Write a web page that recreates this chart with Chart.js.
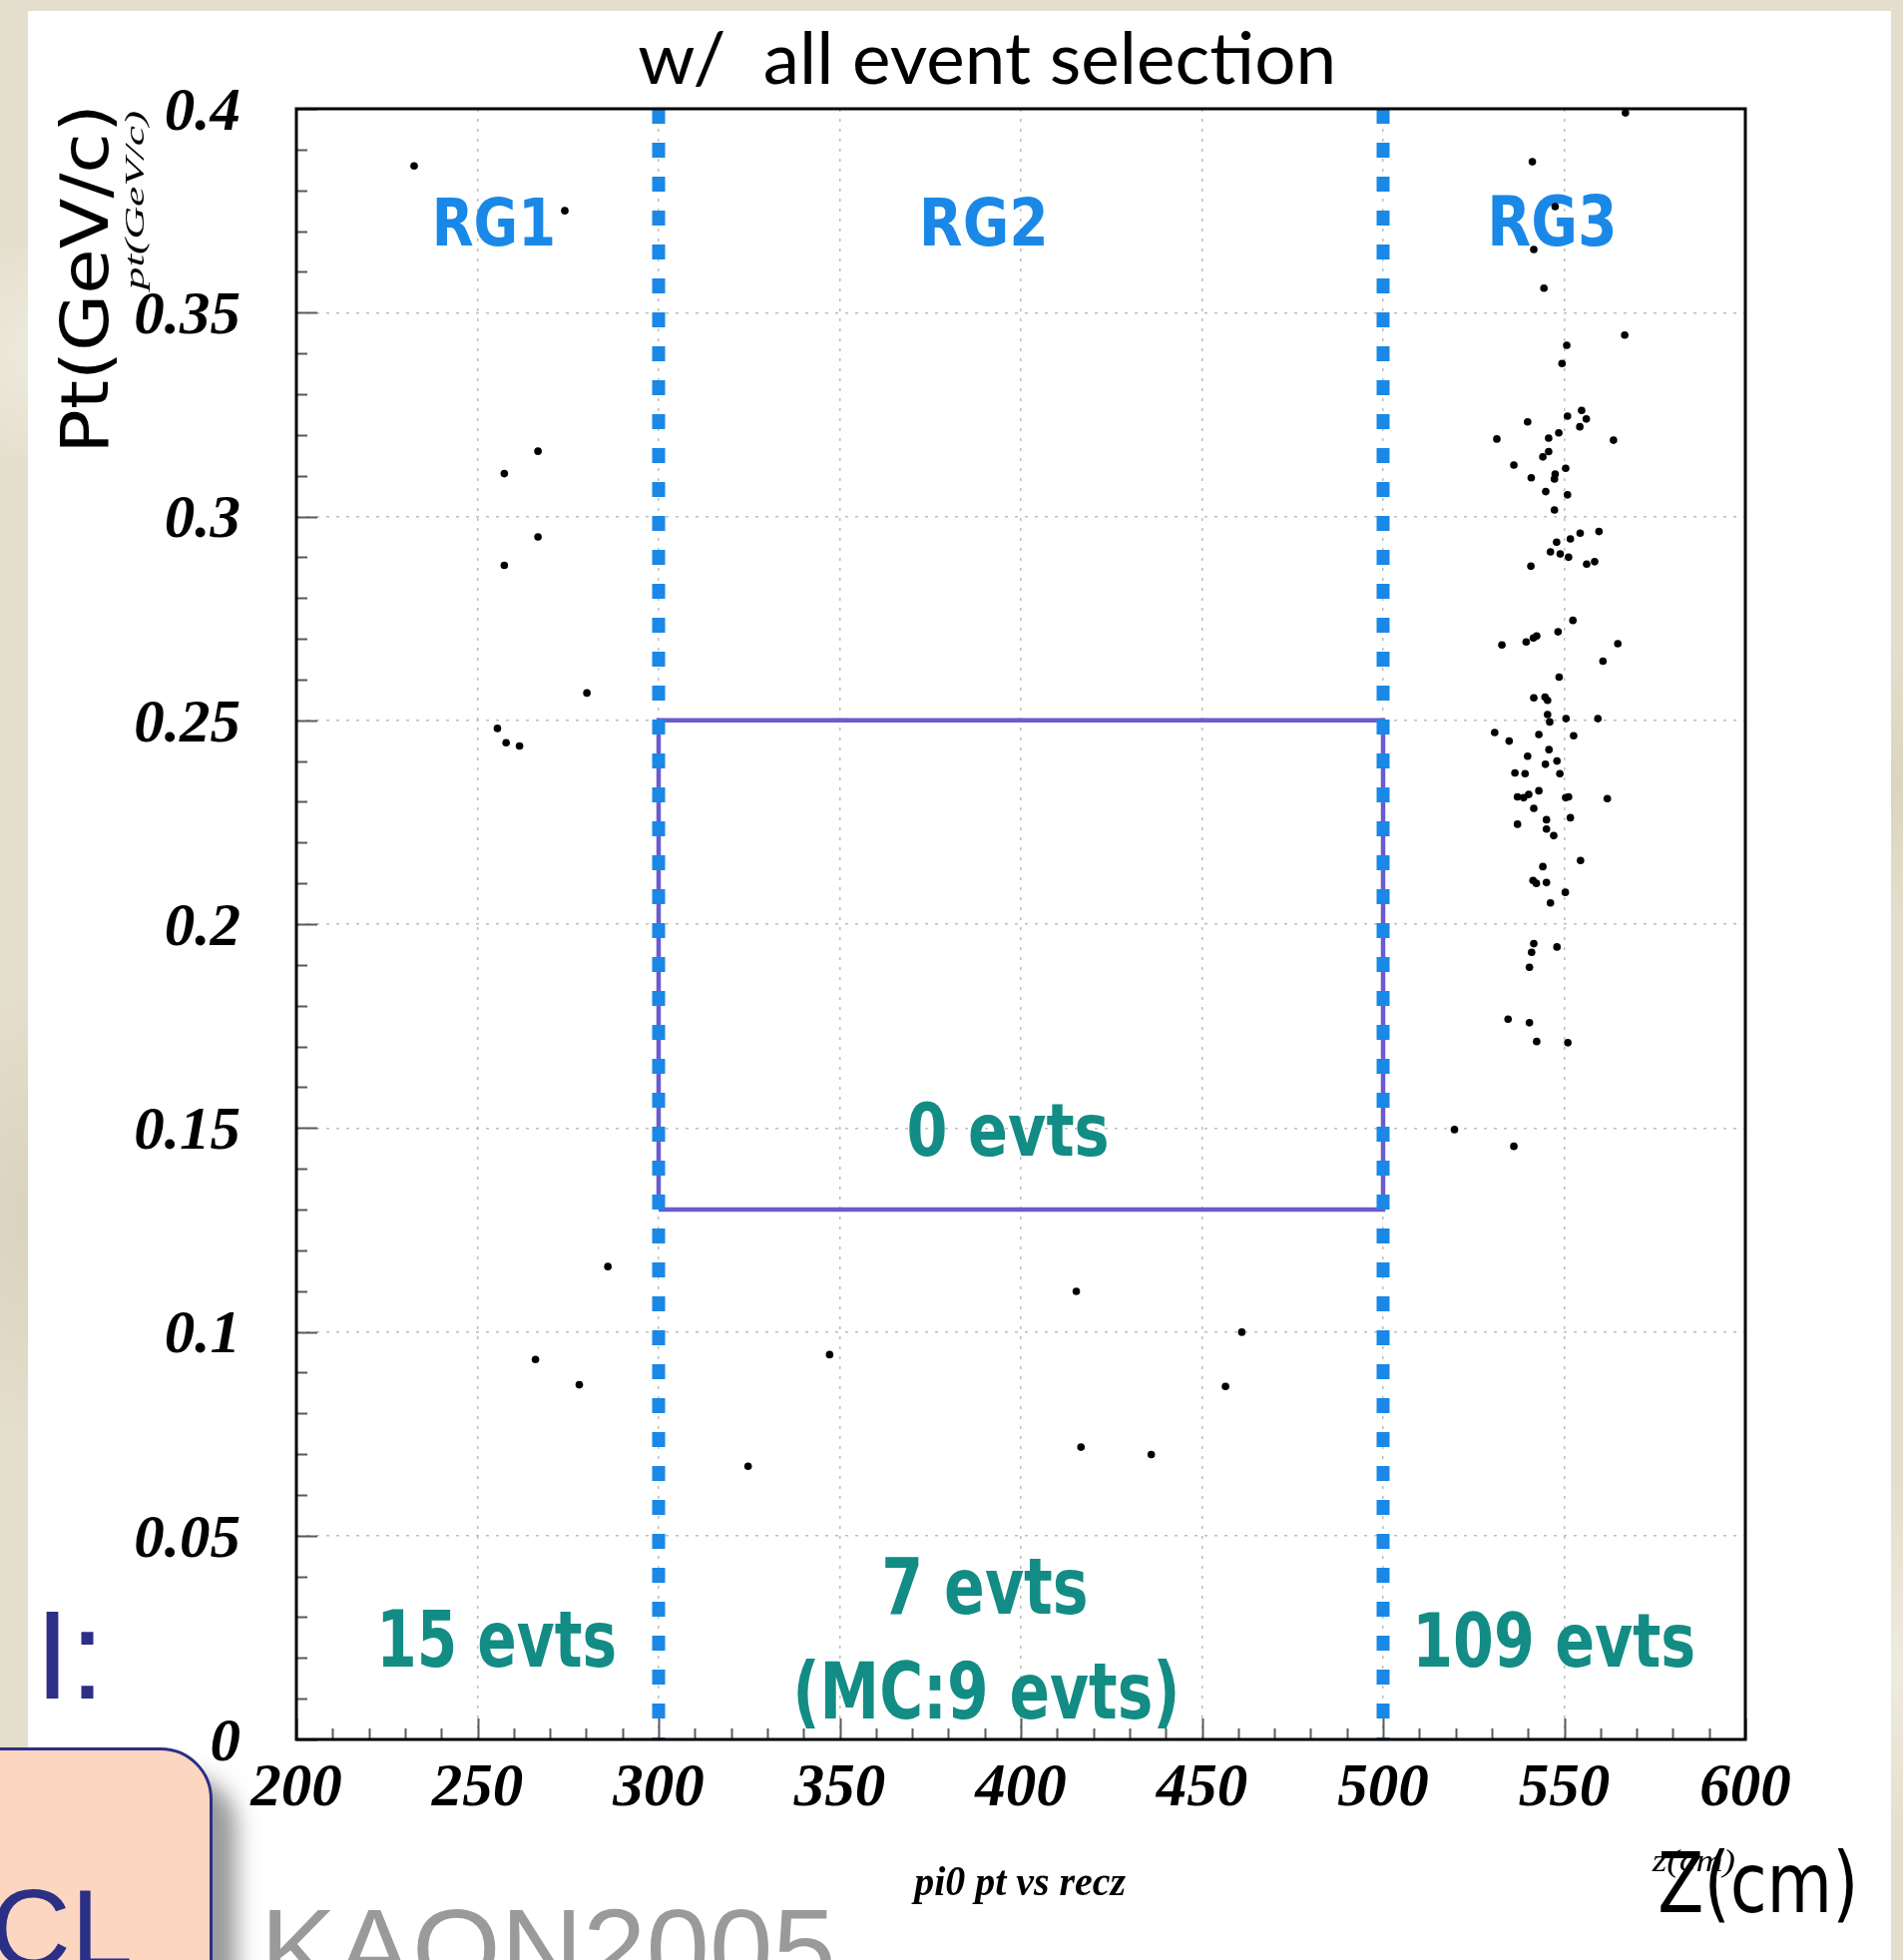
<!DOCTYPE html>
<html>
<head>
<meta charset="utf-8">
<title>pi0 pt vs recz</title>
<script src="https://cdn.jsdelivr.net/npm/chart.js@4.4.1/dist/chart.umd.min.js"></script>
<style>
  html, body { margin: 0; padding: 0; }
  body {
    width: 1907px; height: 1964px; overflow: hidden; position: relative;
    background:
      radial-gradient(ellipse 260px 180px at 4% 18%, rgba(255,255,250,0.45), transparent 70%),
      radial-gradient(ellipse 220px 320px at 2% 62%, rgba(205,195,172,0.45), transparent 70%),
      radial-gradient(ellipse 300px 200px at 99% 40%, rgba(210,200,178,0.45), transparent 70%),
      radial-gradient(ellipse 300px 260px at 99% 85%, rgba(250,248,240,0.5), transparent 70%),
      #e4decc;
  }
  #panel { position: absolute; left: 28px; top: 11px; width: 1867px; height: 1953px; background: #fff; }
  #chart { position: absolute; left: 0; top: 0; }
  .slide { position: absolute; font-family: 'Liberation Sans', Arial, sans-serif; line-height: 1; white-space: nowrap; }
  #tag {
    position: absolute; left: -20px; top: 1751px; width: 227px; height: 260px;
    background: #fcd6c0; border: 3px solid #2b2f86; border-radius: 0 52px 0 0;
    box-shadow: 24px 28px 22px rgba(70,70,70,0.55);
  }
</style>
</head>
<body>
<div id="panel"></div>
<canvas id="chart" width="1907" height="1964"></canvas>
<div id="tag"></div>
<div class="slide" style="left:35px; top:1596px; font-size:126px; color:#2b2f86;">I:</div>
<div class="slide" style="left:-10px; top:1877px; font-size:112px; color:#2b2f86;">CL</div>
<div class="slide" style="left:261px; top:1896px; font-size:114px; color:#9a9a9a;">KAON2005</div>

<script>
// pi0 candidates: transverse momentum (GeV/c) vs reconstructed decay vertex z (cm)
// Region 1 (z < 300)
const rg1Z  = [232.5, 274.1, 266.7, 257.4, 266.7, 257.4, 280.2, 255.5, 257.9, 261.6, 286.0, 266.0, 278.1];
const rg1Pt = [0.386, 0.375, 0.316, 0.3105, 0.295, 0.288, 0.2567, 0.248, 0.2445, 0.2437, 0.116, 0.0932, 0.087];

// Region 2 (300 < z < 500)
const rg2Z  = [324.7, 347.2, 415.3, 416.6, 436.0, 456.5, 461.0];
const rg2Pt = [0.067, 0.0944, 0.1099, 0.0717, 0.0699, 0.0866, 0.0999];

// Region 3 (z > 500)
const rg3Z = [
  566.9, 541.2, 547.5, 541.6, 544.4, 566.7, 550.7, 549.4,
  554.8, 550.9, 556.1, 539.9, 554.3, 548.5, 545.7, 531.4, 563.6, 545.7, 544.1, 536.1, 550.4, 547.5, 540.9, 547.3, 544.9, 550.9, 547.3,
  559.6, 554.4, 551.7, 547.9, 546.2, 548.9, 551.2, 540.8, 556.2, 558.4,
  552.4, 548.3, 542.4, 541.5, 539.5, 532.8, 564.8,
  560.7, 548.6, 541.6, 544.7, 545.4, 545.4, 546.0, 550.5, 559.3,
  530.8, 543.0, 552.6, 534.8, 545.8, 539.9, 548.0, 544.8, 536.4, 539.2,
  548.8, 543.0, 537.1, 538.8, 540.2, 550.4, 551.2, 561.9, 541.6, 551.7,
  545.1, 537.1, 545.1, 547.1, 554.5, 544.1, 541.4, 542.3, 545.1, 550.3,
  546.2, 541.6, 541.0, 548.0, 540.4, 534.5, 540.4, 542.4, 551.0, 519.7, 536.1
];
const rg3Pt = [
  0.399, 0.387, 0.376, 0.3655, 0.356, 0.3445, 0.342, 0.3375,
  0.326, 0.3246, 0.3239, 0.3232, 0.322, 0.3205, 0.3192, 0.319, 0.3187, 0.3159, 0.3146, 0.3126, 0.3118, 0.3104, 0.3095, 0.3092, 0.3061, 0.3053, 0.3016,
  0.2963, 0.2959, 0.2945, 0.2937, 0.2913, 0.2908, 0.29, 0.2878, 0.2883, 0.2889,
  0.2745, 0.2717, 0.2707, 0.2702, 0.2692, 0.2685, 0.2688,
  0.2645, 0.2606, 0.2555, 0.2557, 0.2549, 0.2514, 0.2496, 0.2504, 0.2504,
  0.247, 0.2465, 0.2462, 0.2449, 0.2428, 0.2412, 0.24, 0.2392, 0.2371, 0.2369,
  0.2369, 0.2327, 0.2312, 0.231, 0.2318, 0.231, 0.2312, 0.2308, 0.2284, 0.2261,
  0.2256, 0.2245, 0.2233, 0.2217, 0.2156, 0.2141, 0.2107, 0.21, 0.2102, 0.2078,
  0.2052, 0.1952, 0.1931, 0.1944, 0.1894, 0.1767, 0.1758, 0.1712, 0.1709, 0.1496, 0.1455
];

// Region boundaries in z and the signal box (z range, pt range)
const regionEdges = [300, 500];
const boxZ  = [300, 500];
const boxPt = [0.13, 0.25];

// Axis ranges and tick labels
const zRange  = [200, 600];
const ptRange = [0, 0.4];
const xTicks = [200, 250, 300, 350, 400, 450, 500, 550, 600];
const yTicks = [0, 0.05, 0.1, 0.15, 0.2, 0.25, 0.3, 0.35, 0.4];
const yTickLabels = ['0', '0.05', '0.1', '0.15', '0.2', '0.25', '0.3', '0.35', '0.4'];

// Region labels and event counts
const regionNames = ['RG1', 'RG2', 'RG3'];
const regionCounts = ['15 evts', '7 evts', '109 evts'];
const mcCount = '(MC:9 evts)';
const boxCount = '0 evts';

const BLUE = '#1a88e6';
const TEAL = '#128c84';
const PURPLE = '#6b5bcf';
const LABEL_FONT = "bold 100px 'DejaVu Sans', sans-serif";

// Annotation placement: anchor (data units: z centre, pt of baseline), ink width and height in px
const notes = [
  { text: regionNames[0], z: 254.7, pt: 0.3665, w: 116, h: 50, color: BLUE },
  { text: regionNames[1], z: 389.8, pt: 0.3665, w: 120, h: 50, color: BLUE },
  { text: regionNames[2], z: 546.8, pt: 0.3665, w: 121, h: 52, color: BLUE },
  { text: boxCount,        z: 396.4, pt: 0.1432, w: 198, h: 55, color: TEAL },
  { text: regionCounts[0], z: 255.8, pt: 0.0179, w: 232, h: 57, color: TEAL },
  { text: regionCounts[1], z: 390.2, pt: 0.0308, w: 201, h: 57, color: TEAL },
  { text: mcCount,         z: 390.5, pt: 0.0051, w: 379, h: 59, color: TEAL },
  { text: regionCounts[2], z: 547.7, pt: 0.0179, w: 275, h: 56, color: TEAL }
];

// Draw text so its ink spans [left,right] horizontally and [top,baseline] vertically.
function drawInk(ctx, text, font, color, left, right, top, base) {
  ctx.save();
  ctx.font = font; ctx.fillStyle = color;
  ctx.textAlign = 'left'; ctx.textBaseline = 'alphabetic';
  const m = ctx.measureText(text);
  const iw = m.actualBoundingBoxLeft + m.actualBoundingBoxRight;
  const asc = m.actualBoundingBoxAscent;
  ctx.translate(left, base);
  ctx.scale((right - left) / iw, (base - top) / asc);
  ctx.fillText(text, m.actualBoundingBoxLeft, 0);
  ctx.restore();
}

// Rotated (reading upwards): ink runs from yStart (bottom) to yEnd (top); glyph tops at xTop, baseline at xBase.
function drawInkUp(ctx, text, font, color, yStart, yEnd, xTop, xBase) {
  ctx.save();
  ctx.font = font; ctx.fillStyle = color;
  ctx.textAlign = 'left'; ctx.textBaseline = 'alphabetic';
  const m = ctx.measureText(text);
  const iw = m.actualBoundingBoxLeft + m.actualBoundingBoxRight;
  const asc = m.actualBoundingBoxAscent;
  ctx.translate(xBase, yStart);
  ctx.rotate(-Math.PI / 2);
  ctx.scale((yStart - yEnd) / iw, (xBase - xTop) / asc);
  ctx.fillText(text, m.actualBoundingBoxLeft, 0);
  ctx.restore();
}

const decor = {
  id: 'decor',
  beforeDatasetsDraw(chart) {
    const { ctx, scales: { x, y } } = chart;
    for (const n of notes) {
      const cx = x.getPixelForValue(n.z);
      const base = y.getPixelForValue(n.pt);
      drawInk(ctx, n.text, LABEL_FONT, n.color, cx - n.w / 2, cx + n.w / 2, base - n.h, base);
    }
  },
  afterDatasetsDraw(chart) {
    const { ctx, chartArea: a, scales: { x, y } } = chart;
    ctx.save();
    // inner tick marks along the bottom and left edges
    ctx.strokeStyle = '#5a5a5a';
    ctx.lineWidth = 2;
    ctx.beginPath();
    for (let v = zRange[0]; v <= zRange[1]; v += 10) {
      const px = Math.round(x.getPixelForValue(v)) + 0.5;
      const len = (v % 50 === 0) ? 21 : 11;
      ctx.moveTo(px, a.bottom); ctx.lineTo(px, a.bottom - len);
    }
    for (let i = 0; i <= 40; i++) {
      const py = Math.round(y.getPixelForValue(i / 100)) + 0.5;
      const len = (i % 5 === 0) ? 21 : 11;
      ctx.moveTo(a.left, py); ctx.lineTo(a.left + len, py);
    }
    ctx.stroke();
    // frame
    ctx.strokeStyle = '#000';
    ctx.lineWidth = 3;
    ctx.strokeRect(a.left, a.top, a.right - a.left, a.bottom - a.top);
    ctx.restore();
  },
  afterDraw(chart) {
    const { ctx } = chart;
    drawInk(ctx, 'w/  all event selection', "400 100px Lato, 'Open Sans', sans-serif", '#000', 640, 1335, 31, 84);
    drawInkUp(ctx, 'Pt(GeV/c)', "100px 'DejaVu Sans', sans-serif", '#000', 448, 110, 58, 108);
    drawInkUp(ctx, 'pt(GeV/c)', "italic 100px 'Liberation Serif', serif", '#000', 293, 112, 125, 144);
    drawInk(ctx, 'Z(cm)', "100px 'DejaVu Sans', sans-serif", '#000', 1664, 1857, 1853, 1916);
    drawInk(ctx, 'z(cm)', "italic 100px 'Liberation Serif', serif", '#000', 1655, 1738, 1853, 1875);
    drawInk(ctx, 'pi0 pt vs recz', "italic bold 100px 'Liberation Serif', serif", '#000', 913, 1128, 1870, 1899);
  }
};

function toPoints(zs, pts) { return zs.map((z, i) => ({ x: z, y: pts[i] })); }
const events = [].concat(toPoints(rg1Z, rg1Pt), toPoints(rg2Z, rg2Pt), toPoints(rg3Z, rg3Pt));
const edgeLine = z => [{ x: z, y: ptRange[1] }, { x: z, y: ptRange[0] }];
const boxPath = [
  { x: boxZ[0], y: boxPt[0] }, { x: boxZ[0], y: boxPt[1] },
  { x: boxZ[1], y: boxPt[1] }, { x: boxZ[1], y: boxPt[0] }, { x: boxZ[0], y: boxPt[0] }
];

const tickFont = { family: "'Liberation Serif', 'Times New Roman', serif", size: 61, style: 'italic', weight: 'bold' };

new Chart(document.getElementById('chart').getContext('2d'), {
  type: 'scatter',
  data: {
    datasets: [
      { label: 'events', data: events, pointRadius: 3.8, pointHoverRadius: 3.8,
        pointBackgroundColor: '#000', pointBorderWidth: 0, showLine: false },
      { label: 'edge low', data: edgeLine(regionEdges[0]), showLine: true, pointRadius: 0,
        borderColor: BLUE, borderWidth: 13, borderDash: [15, 19], borderCapStyle: 'butt' },
      { label: 'edge high', data: edgeLine(regionEdges[1]), showLine: true, pointRadius: 0,
        borderColor: BLUE, borderWidth: 13, borderDash: [15, 19], borderCapStyle: 'butt' },
      { label: 'signal box', data: boxPath, showLine: true, pointRadius: 0,
        borderColor: PURPLE, borderWidth: 4.5, borderJoinStyle: 'miter', tension: 0 }
    ]
  },
  options: {
    responsive: false,
    animation: false,
    devicePixelRatio: 1,
    events: [],
    layout: { padding: { left: 0, top: 109, right: 158, bottom: 0 } },
    plugins: { legend: { display: false }, tooltip: { enabled: false }, title: { display: false } },
    scales: {
      x: {
        type: 'linear', position: 'bottom', min: zRange[0], max: zRange[1],
        afterBuildTicks: s => { s.ticks = xTicks.map(v => ({ value: v })); },
        afterFit: s => { s.height = 221; },
        ticks: { padding: 14, font: tickFont, color: '#000', autoSkip: false, maxRotation: 0, minRotation: 0,
                 callback: (v, i) => String(xTicks[i]) },
        grid: { color: '#bdbdbd', lineWidth: 1.5, drawTicks: false },
        border: { display: false, dash: [3, 7] }
      },
      y: {
        type: 'linear', position: 'left', min: ptRange[0], max: ptRange[1],
        afterBuildTicks: s => { s.ticks = yTicks.map(v => ({ value: v })); },
        afterFit: s => { s.width = 297; },
        ticks: { padding: 56, labelOffset: 5, font: tickFont, color: '#000', autoSkip: false,
                 callback: (v, i) => yTickLabels[i] },
        grid: { color: '#bdbdbd', lineWidth: 1.5, drawTicks: false },
        border: { display: false, dash: [3, 7] }
      }
    }
  },
  plugins: [decor]
});
</script>
</body>
</html>
